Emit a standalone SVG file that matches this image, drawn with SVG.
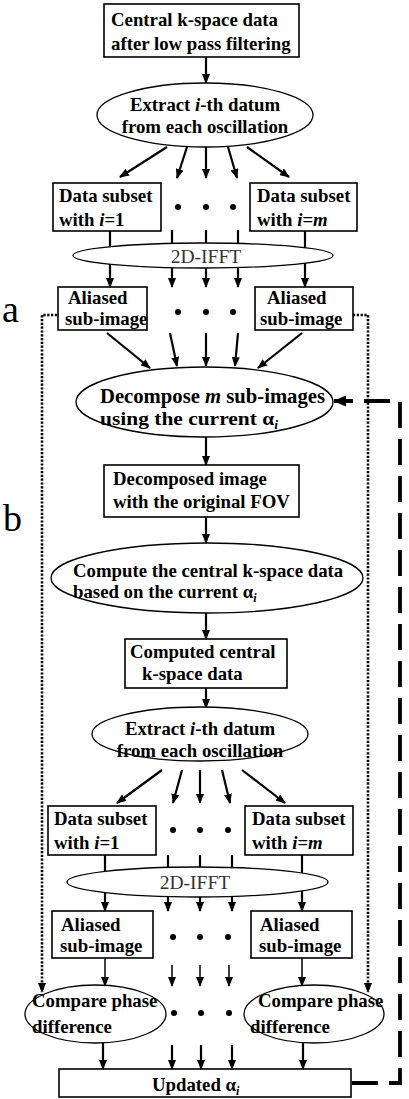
<svg xmlns="http://www.w3.org/2000/svg" width="409" height="1099" viewBox="0 0 409 1099">
<style>
.bx{fill:#fff;stroke:#000;stroke-width:1.6}
.el{fill:#fff;stroke:#000;stroke-width:1.3}
.t{font-family:"Liberation Serif","Times New Roman",serif;font-weight:bold;font-size:18.8px;fill:#000}
.big{font-size:20px}
.it{font-style:italic}
.sub{font-size:12px;font-style:italic}
.ff{font-family:"Liberation Serif","Times New Roman",serif;font-size:19.5px;fill:#333}
.lbl{font-family:"Liberation Serif","Times New Roman",serif;font-size:38px;fill:#000}
.ar{stroke:#000;stroke-width:2.2;fill:none;marker-end:url(#ah)}
.thin{stroke:#000;stroke-width:1.5;fill:none;marker-end:url(#ahs)}
.dot{stroke:#000;stroke-width:2.6;fill:none;stroke-dasharray:2.2 1.6;marker-end:url(#ahs)}
.dash{stroke:#000;stroke-width:3.8;fill:none;stroke-dasharray:26 11;marker-end:url(#ahb)}
</style>
<defs>
<marker id="ah" markerUnits="userSpaceOnUse" markerWidth="10" markerHeight="8" refX="9" refY="4" orient="auto"><path d="M0,0 L10,4 L0,8 z" fill="#000"/></marker>
<marker id="ahs" markerUnits="userSpaceOnUse" markerWidth="10" markerHeight="8" refX="9" refY="4" orient="auto"><path d="M0,0 L10,4 L0,8 z" fill="#000"/></marker>
<marker id="ahb" markerUnits="userSpaceOnUse" markerWidth="13" markerHeight="11" refX="12" refY="5.5" orient="auto"><path d="M0,0 L13,5.5 L0,11 z" fill="#000"/></marker>
</defs>

<g id="connectors">
<line class="ar" x1="206" y1="57" x2="206" y2="83"/>
<line class="ar" x1="167" y1="147" x2="120" y2="177"/>
<line class="ar" x1="187" y1="147" x2="177" y2="178"/>
<line class="ar" x1="206" y1="147" x2="206" y2="178"/>
<line class="ar" x1="228" y1="147" x2="237" y2="178"/>
<line class="ar" x1="247" y1="147" x2="289" y2="177"/>
<line class="ar" x1="110" y1="231" x2="110" y2="287"/>
<line class="ar" x1="172" y1="230" x2="172" y2="287"/>
<line class="ar" x1="206" y1="230" x2="206" y2="287"/>
<line class="ar" x1="238" y1="230" x2="238" y2="287"/>
<line class="ar" x1="305" y1="231" x2="305" y2="287"/>
<line class="ar" x1="107" y1="333" x2="150" y2="368"/>
<line class="ar" x1="170" y1="333" x2="177" y2="366"/>
<line class="ar" x1="206" y1="333" x2="206" y2="366"/>
<line class="ar" x1="238" y1="333" x2="235" y2="366"/>
<line class="ar" x1="302" y1="333" x2="258" y2="368"/>
<line class="ar" x1="206" y1="437" x2="206" y2="465"/>
<line class="ar" x1="206" y1="517" x2="206" y2="543"/>
<line class="ar" x1="206" y1="613" x2="206" y2="639"/>
<line class="ar" x1="206" y1="688" x2="206" y2="708"/>
<line class="ar" x1="162" y1="770" x2="117" y2="803"/>
<line class="ar" x1="182" y1="770" x2="173" y2="803"/>
<line class="ar" x1="200" y1="770" x2="200" y2="803"/>
<line class="ar" x1="222" y1="770" x2="230" y2="803"/>
<line class="ar" x1="242" y1="770" x2="285" y2="803"/>
<line class="ar" x1="105" y1="855" x2="105" y2="911"/>
<line class="ar" x1="168" y1="855" x2="168" y2="911"/>
<line class="ar" x1="200" y1="855" x2="200" y2="911"/>
<line class="ar" x1="232" y1="855" x2="232" y2="911"/>
<line class="ar" x1="302" y1="855" x2="302" y2="911"/>
<line class="thin" x1="105" y1="958" x2="105" y2="986"/>
<line class="thin" x1="172" y1="965" x2="172" y2="986"/>
<line class="thin" x1="200" y1="965" x2="200" y2="986"/>
<line class="thin" x1="229" y1="965" x2="229" y2="986"/>
<line class="thin" x1="302" y1="958" x2="302" y2="986"/>
<line class="ar" x1="103" y1="1043" x2="103" y2="1069"/>
<line class="ar" x1="172" y1="1045" x2="172" y2="1069"/>
<line class="ar" x1="201" y1="1045" x2="201" y2="1069"/>
<line class="ar" x1="232" y1="1045" x2="232" y2="1069"/>
<line class="ar" x1="303" y1="1043" x2="303" y2="1069"/>
<path class="dot" d="M57 315 H42 V992"/>
<path class="dot" d="M353 315 H368 V992"/>
<path class="dash" d="M352 1083 H400 V401 H334"/>
</g>

<g id="n1"><rect class="bx" x="104" y="4" width="195" height="53"/>
<text class="t" x="111" y="26">Central k-space data</text>
<text class="t" x="111" y="50">after low pass filtering</text></g>

<g id="n2"><ellipse class="el" cx="205" cy="115" rx="108" ry="32"/>
<text class="t" x="205" y="111" text-anchor="middle">Extract <tspan class="it">i</tspan>-th datum</text>
<text class="t" x="205" y="133" text-anchor="middle">from each oscillation</text></g>

<g id="n3"><rect class="bx" x="53" y="183" width="108" height="48"/>
<text class="t" x="59" y="202">Data subset</text>
<text class="t" x="59" y="226">with <tspan class="it">i</tspan>=1</text></g>
<g id="n4"><rect class="bx" x="250" y="183" width="107" height="48"/>
<text class="t" x="257" y="202">Data subset</text>
<text class="t" x="257" y="226">with <tspan class="it">i</tspan>=<tspan class="it">m</tspan></text></g>
<g id="dots1"><circle cx="178" cy="207" r="3"/><circle cx="206" cy="207" r="3"/><circle cx="233" cy="207" r="3"/></g>

<g id="n5"><ellipse class="el" cx="203" cy="255.5" rx="130" ry="12.5"/>
<text class="ff" x="206" y="263" text-anchor="middle">2D-IFFT</text></g>

<g id="n6"><rect class="bx" x="58" y="287" width="89" height="43"/>
<text class="t" x="68" y="304">Aliased</text>
<text class="t" x="65" y="325">sub-image</text></g>
<g id="n7"><rect class="bx" x="255" y="287" width="98" height="43"/>
<text class="t" x="267" y="304">Aliased</text>
<text class="t" x="260" y="325">sub-image</text></g>
<g id="dots2"><circle cx="178" cy="312" r="3"/><circle cx="206" cy="312" r="3"/><circle cx="233" cy="312" r="3"/></g>

<g id="n8"><ellipse class="el" cx="204.5" cy="402" rx="128.5" ry="35"/>
<text class="t big" x="100" y="403" textLength="225" lengthAdjust="spacingAndGlyphs">Decompose <tspan class="it">m</tspan> sub-images</text>
<text class="t" x="100" y="425" textLength="178" lengthAdjust="spacingAndGlyphs">using the current α<tspan class="sub" dy="4">i</tspan></text></g>

<g id="n9"><rect class="bx" x="104" y="465" width="195" height="52"/>
<text class="t" x="113" y="485">Decomposed image</text>
<text class="t" x="113" y="508">with the original FOV</text></g>

<g id="n10"><ellipse class="el" cx="207" cy="578" rx="156" ry="35"/>
<text class="t" x="73" y="577">Compute the central k-space data</text>
<text class="t" x="73" y="598">based on the current α<tspan class="sub" dy="4">i</tspan></text></g>

<g id="n11"><rect class="bx" x="125" y="639" width="162" height="49"/>
<text class="t" x="130" y="658">Computed central</text>
<text class="t" x="142" y="680">k-space data</text></g>

<g id="n12"><ellipse class="el" cx="200" cy="734" rx="108" ry="27"/>
<text class="t" x="200" y="735" text-anchor="middle">Extract <tspan class="it">i</tspan>-th datum</text>
<text class="t" x="200" y="757" text-anchor="middle">from each oscillation</text></g>

<g id="n13"><rect class="bx" x="48" y="806" width="108" height="49"/>
<text class="t" x="54" y="825">Data subset</text>
<text class="t" x="54" y="849">with <tspan class="it">i</tspan>=1</text></g>
<g id="n14"><rect class="bx" x="245" y="806" width="108" height="49"/>
<text class="t" x="252" y="825">Data subset</text>
<text class="t" x="252" y="849">with <tspan class="it">i</tspan>=<tspan class="it">m</tspan></text></g>
<g id="dots3"><circle cx="173" cy="830" r="3"/><circle cx="200" cy="830" r="3"/><circle cx="228" cy="830" r="3"/></g>

<g id="n15"><ellipse class="el" cx="197.5" cy="882" rx="130.5" ry="15"/>
<text class="ff" x="195" y="889" text-anchor="middle">2D-IFFT</text></g>

<g id="n16"><rect class="bx" x="52" y="911" width="101" height="47"/>
<text class="t" x="61" y="931">Aliased</text>
<text class="t" x="60" y="952">sub-image</text></g>
<g id="n17"><rect class="bx" x="251" y="911" width="101" height="47"/>
<text class="t" x="260" y="931">Aliased</text>
<text class="t" x="259" y="952">sub-image</text></g>
<g id="dots4"><circle cx="173" cy="937" r="3"/><circle cx="200" cy="937" r="3"/><circle cx="228" cy="937" r="3"/></g>

<g id="n18"><ellipse class="el" cx="95.5" cy="1014" rx="70.5" ry="29"/>
<text class="t" x="32" y="1007">Compare phase</text>
<text class="t" x="32" y="1033">difference</text></g>
<g id="n19"><ellipse class="el" cx="314" cy="1014" rx="70" ry="29"/>
<text class="t" x="258" y="1007">Compare phase</text>
<text class="t" x="250" y="1033">difference</text></g>
<g id="dots5"><circle cx="174" cy="1013" r="3"/><circle cx="201" cy="1013" r="3"/><circle cx="229" cy="1013" r="3"/></g>

<g id="n20"><rect class="bx" x="59" y="1069" width="292" height="28"/>
<text class="t" x="152" y="1091">Updated  α<tspan class="sub" dy="4">i</tspan></text></g>

<g id="labels">
<text class="lbl" x="2" y="322">a</text>
<text class="lbl" x="3" y="531">b</text>
</g>
</svg>
